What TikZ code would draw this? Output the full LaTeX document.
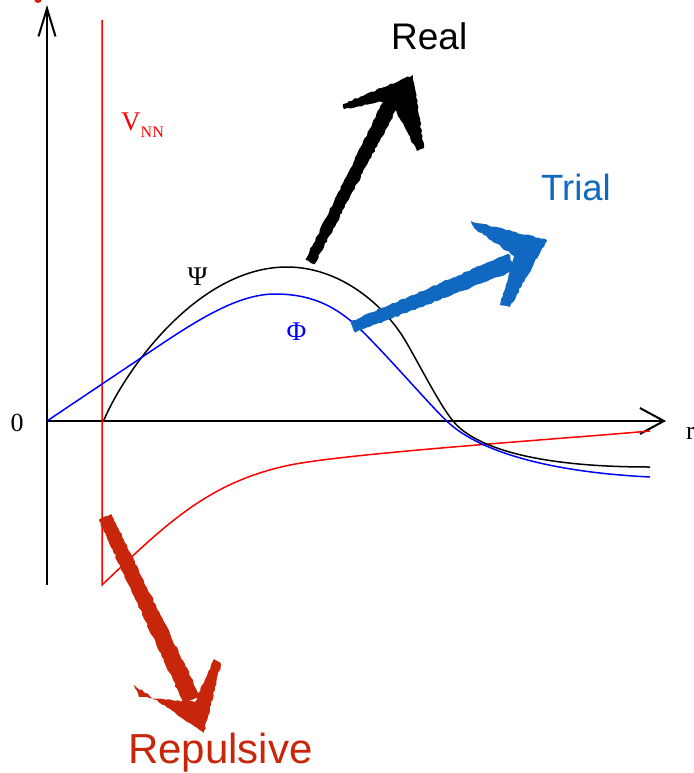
\documentclass[tikz,border=0pt]{standalone}
\usepackage{fontspec}
\setmainfont{Liberation Serif}
\newfontfamily\arialf{Liberation Sans}
\usetikzlibrary{arrows.meta,decorations.pathmorphing}
\definecolor{realc}{RGB}{0,0,0}
\definecolor{trialc}{RGB}{16,104,192}
\definecolor{repc}{RGB}{200,38,10}
\definecolor{potred}{RGB}{255,0,0}
\definecolor{phiblue}{RGB}{0,0,255}
\tikzset{
  axisline/.style={line width=2pt,black},
  curve/.style={line width=1.5pt},
  brush/.style={decorate,decoration={random steps,segment length=3pt,amplitude=0.8pt}},
  biglabel/.style={font=\arialf\fontsize{#1}{#1}\selectfont,inner sep=0pt},
}
\begin{document}
\begin{tikzpicture}[x=1pt,y=-1pt]
\useasboundingbox (0,0) rectangle (693,773);
\clip (0,0) rectangle (693,773);
% axes
\coordinate (o) at (47,421);
\coordinate (ybot) at (47,585);
\coordinate (ytop) at (47,5);
\coordinate (xend) at (666,421);
\draw[axisline,-{Straight Barb[length=28pt,width=17pt,line width=2pt]}] (ybot) -- (ytop);
\draw[axisline,-{Straight Barb[length=24pt,width=26pt,line width=2pt]}] (o) -- (xend);
\fill[repc] (38,-1) circle (4);
% potential
\coordinate (vtop) at (102,20);
\coordinate (vbot) at (102,585);
\draw[curve,potred] (vtop) -- (vbot)
  .. controls (165,525) and (208,482) .. (290,465)
  .. controls (350,453) and (560,439) .. (650,431);
% Psi (real)
\draw[curve,black] (103.5,421)
  .. controls (125,370) and (198,267) .. (287,267)
  .. controls (340,267) and (385,305) .. (406.7,343)
  .. controls (425,375) and (440,405) .. (453,421)
  .. controls (470,442) and (520,467) .. (650,467);
% Phi (trial)
\draw[curve,phiblue] (o) -- (120,372)
  .. controls (180,332) and (230,294) .. (275,294)
  .. controls (320,294) and (345,313) .. (370,339)
  .. controls (400,370) and (430,405) .. (446.7,421)
  .. controls (462,436) and (510,470) .. (650,477);
% sketchy arrows
\fill[brush,realc] (314.5,264.3) -- (305.5,259.7) -- (387.9,91.4) -- (402.1,98.6) -- cycle;
\fill[brush,realc] (413,75) -- (343,104) -- (344,109) -- (390,100) -- (417,151) -- (424,148) -- cycle;
\fill[brush,trialc] (355.3,332.6) -- (350.7,321.4) -- (508.6,253.7) -- (515.4,270.3) -- cycle;
\fill[brush,trialc] (547,240) -- (471,221) -- (474,228) -- (514,256) -- (500,305) -- (510,307) -- cycle;
\fill[brush,repc] (111.3,514) -- (98.7,520) -- (183.9,703.9) -- (200.1,696.1) -- cycle;
\fill[brush,repc] (204,733) -- (134,685) -- (139,697) -- (195,702) -- (214,659) -- (221,664) -- cycle;
% labels
\node[biglabel=37pt,anchor=base west] (real) at (391,50) {Real};
\node[biglabel=36.5pt,anchor=base west,text=trialc] (trial) at (541,200) {Trial};
\node[biglabel=42pt,anchor=base west,text=repc] (rep) at (128,763) {Repulsive};
\node[inner sep=0pt,anchor=base west,text=potred,font=\fontsize{27pt}{27pt}\selectfont] (vnn) at (121,130) {V\raisebox{-7pt}{\fontsize{16pt}{16pt}\selectfont NN}};
\node[inner sep=0pt,anchor=base,font=\fontsize{26pt}{26pt}\selectfont] (zero) at (17,431) {0};
\node[inner sep=0pt,anchor=base west,font=\fontsize{26pt}{26pt}\selectfont] (rlab) at (686,439) {r};
\node[inner sep=0pt,anchor=base,font=\fontsize{27pt}{27pt}\selectfont] (psi) at (197.5,285) {Ψ};
\node[inner sep=0pt,anchor=base,text=phiblue,font=\fontsize{27pt}{27pt}\selectfont] (phi) at (296.5,340) {Φ};
\end{tikzpicture}
\end{document}
